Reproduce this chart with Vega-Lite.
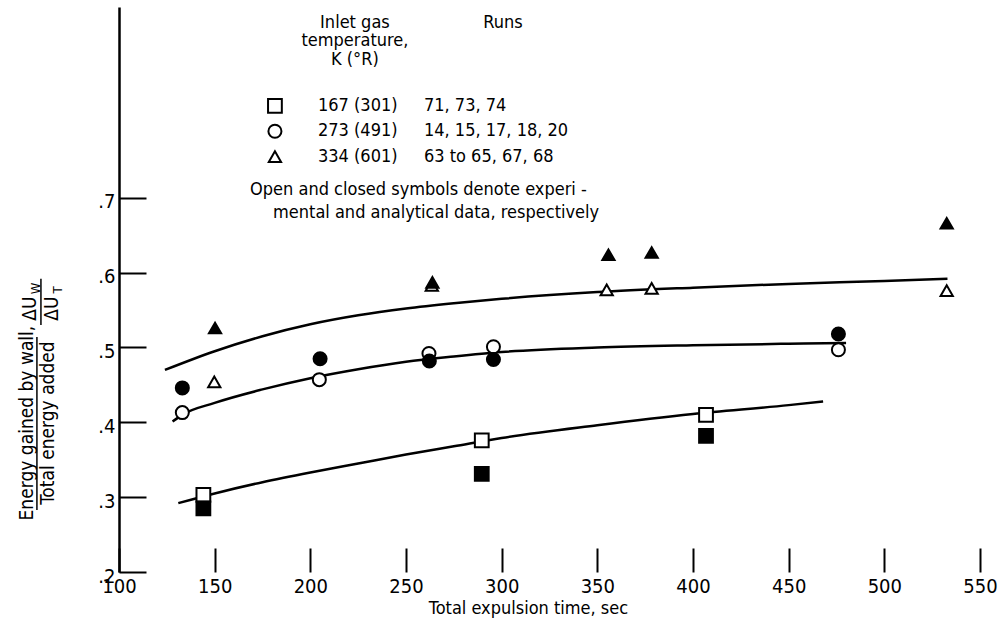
{
  "$schema": "https://vega.github.io/schema/vega-lite/v6.json",
  "width": 861,
  "height": 565,
  "autosize": {"type": "none"},
  "padding": {"left": 119, "top": 7, "right": 18, "bottom": 51},
  "background": "white",
  "config": {
    "view": {"stroke": null},
    "font": "Liberation Sans Narrow, DejaVu Sans Condensed, sans-serif",
    "text": {"color": "black", "font": "Liberation Sans Narrow, DejaVu Sans Condensed, sans-serif"}
  },
  "datasets": {
    "points": [
      {"temp": "167", "kind": "experimental", "x": 144.1, "y": 0.303},
      {"temp": "167", "kind": "experimental", "x": 289.6, "y": 0.376},
      {"temp": "167", "kind": "experimental", "x": 406.8, "y": 0.410},
      {"temp": "273", "kind": "experimental", "x": 133.1, "y": 0.413},
      {"temp": "273", "kind": "experimental", "x": 204.7, "y": 0.457},
      {"temp": "273", "kind": "experimental", "x": 262.0, "y": 0.492},
      {"temp": "273", "kind": "experimental", "x": 295.7, "y": 0.501},
      {"temp": "273", "kind": "experimental", "x": 476.0, "y": 0.497},
      {"temp": "334", "kind": "experimental", "x": 149.8, "y": 0.454},
      {"temp": "334", "kind": "experimental", "x": 263.5, "y": 0.583},
      {"temp": "334", "kind": "experimental", "x": 354.9, "y": 0.577},
      {"temp": "334", "kind": "experimental", "x": 378.4, "y": 0.579},
      {"temp": "334", "kind": "experimental", "x": 532.6, "y": 0.576},
      {"temp": "167", "kind": "analytical", "x": 144.1, "y": 0.285},
      {"temp": "167", "kind": "analytical", "x": 289.6, "y": 0.331},
      {"temp": "167", "kind": "analytical", "x": 406.8, "y": 0.382},
      {"temp": "273", "kind": "analytical", "x": 133.1, "y": 0.446},
      {"temp": "273", "kind": "analytical", "x": 205.1, "y": 0.485},
      {"temp": "273", "kind": "analytical", "x": 262.2, "y": 0.482},
      {"temp": "273", "kind": "analytical", "x": 295.7, "y": 0.484},
      {"temp": "273", "kind": "analytical", "x": 476.0, "y": 0.518},
      {"temp": "334", "kind": "analytical", "x": 150.2, "y": 0.526},
      {"temp": "334", "kind": "analytical", "x": 263.8, "y": 0.587},
      {"temp": "334", "kind": "analytical", "x": 355.8, "y": 0.624},
      {"temp": "334", "kind": "analytical", "x": 378.4, "y": 0.627},
      {"temp": "334", "kind": "analytical", "x": 532.6, "y": 0.666}
    ],
    "curves": [
      {"series": "334", "x": 124, "y": 0.470},
      {"series": "334", "x": 150, "y": 0.495},
      {"series": "334", "x": 175, "y": 0.515},
      {"series": "334", "x": 200, "y": 0.531},
      {"series": "334", "x": 225, "y": 0.543},
      {"series": "334", "x": 250, "y": 0.552},
      {"series": "334", "x": 275, "y": 0.559},
      {"series": "334", "x": 300, "y": 0.565},
      {"series": "334", "x": 350, "y": 0.574},
      {"series": "334", "x": 400, "y": 0.580},
      {"series": "334", "x": 450, "y": 0.585},
      {"series": "334", "x": 500, "y": 0.589},
      {"series": "334", "x": 533, "y": 0.592},
      {"series": "273", "x": 128, "y": 0.401},
      {"series": "273", "x": 133, "y": 0.410},
      {"series": "273", "x": 150, "y": 0.426},
      {"series": "273", "x": 175, "y": 0.444},
      {"series": "273", "x": 200, "y": 0.459},
      {"series": "273", "x": 225, "y": 0.471},
      {"series": "273", "x": 250, "y": 0.481},
      {"series": "273", "x": 275, "y": 0.488},
      {"series": "273", "x": 300, "y": 0.494},
      {"series": "273", "x": 350, "y": 0.500},
      {"series": "273", "x": 400, "y": 0.503},
      {"series": "273", "x": 450, "y": 0.505},
      {"series": "273", "x": 480, "y": 0.506},
      {"series": "167", "x": 131, "y": 0.292},
      {"series": "167", "x": 150, "y": 0.305},
      {"series": "167", "x": 175, "y": 0.320},
      {"series": "167", "x": 200, "y": 0.333},
      {"series": "167", "x": 225, "y": 0.345},
      {"series": "167", "x": 250, "y": 0.357},
      {"series": "167", "x": 275, "y": 0.368},
      {"series": "167", "x": 300, "y": 0.379},
      {"series": "167", "x": 350, "y": 0.396},
      {"series": "167", "x": 400, "y": 0.411},
      {"series": "167", "x": 450, "y": 0.423},
      {"series": "167", "x": 468, "y": 0.428}
    ],
    "baseline": [
      {"part": "solid", "x": 100, "x2": 200},
      {"part": "faint", "x": 200, "x2": 236},
      {"part": "broken", "x": 236, "x2": 350}
    ],
    "legendRows": [
      {"temp": "167", "label": "167 (301)", "runs": "71,  73,  74", "x": 181.5, "y": 0.823},
      {"temp": "273", "label": "273 (491)", "runs": "14,  15,  17,  18,  20", "x": 181.5, "y": 0.789},
      {"temp": "334", "label": "334 (601)", "runs": "63 to 65,  67,  68", "x": 181.5, "y": 0.755}
    ],
    "headers": [
      {"text": "Inlet gas", "x": 223.3, "y": 0.934},
      {"text": "temperature,", "x": 223.3, "y": 0.910},
      {"text": "K (°R)", "x": 223.3, "y": 0.884},
      {"text": "Runs", "x": 300.7, "y": 0.934}
    ],
    "notes": [
      {"text": "Open and closed symbols denote experi -", "x": 168.5, "y": 0.711},
      {"text": "mental and analytical data,  respectively", "x": 180.5, "y": 0.680}
    ],
    "ytitle": [
      {"text": "Energy gained by wall,", "x": 51.9, "y": 0.399},
      {"text": "Total energy added", "x": 62.9, "y": 0.399},
      {"text": "ΔU", "x": 53.5, "y": 0.552},
      {"text": "ΔU", "x": 65.0, "y": 0.552}
    ],
    "ysubs": [
      {"text": "W", "x": 56.8, "y": 0.579},
      {"text": "T", "x": 68.3, "y": 0.577}
    ],
    "bars": [
      {"x": 57.1, "y": 0.283, "y2": 0.514},
      {"x": 59.2, "y": 0.530, "y2": 0.592}
    ]
  },
  "encoding": {
    "x": {
      "field": "x",
      "type": "quantitative",
      "scale": {"domain": [100, 550], "nice": false, "zero": false},
      "axis": {
        "values": [100, 150, 200, 250, 300, 350, 400, 450, 500, 550],
        "domain": false,
        "grid": false,
        "tickSize": -24,
        "tickWidth": 2,
        "tickColor": "black",
        "labelFontSize": 20,
        "labelColor": "black",
        "labelPadding": 28,
        "labelFlush": false,
        "labelOverlap": false,
        "title": "Total expulsion time,  sec",
        "titleFontSize": 18,
        "titleFontWeight": "normal",
        "titleColor": "black",
        "titleX": 409,
        "titleY": 36,
        "titleAlign": "center",
        "titleBaseline": "middle"
      }
    },
    "y": {
      "field": "y",
      "type": "quantitative",
      "scale": {"domain": [0.2, 0.955], "nice": false, "zero": false},
      "axis": {
        "values": [0.2, 0.3, 0.4, 0.5, 0.6, 0.7],
        "labelExpr": "replace(format(datum.value, '.1f'), '0.', '.')",
        "domain": true,
        "domainColor": "black",
        "domainWidth": 2.5,
        "grid": false,
        "tickSize": -27,
        "tickWidth": 2,
        "tickColor": "black",
        "labelFontSize": 20,
        "labelColor": "black",
        "labelPadding": 31,
        "labelOffset": 4,
        "title": null
      }
    }
  },
  "layer": [
    {
      "data": {"name": "baseline"},
      "transform": [{"filter": "datum.part === 'solid'"}],
      "mark": {"type": "rule", "color": "black", "strokeWidth": 2.5},
      "encoding": {"x2": {"field": "x2"}, "y": {"datum": 0.2}}
    },
    {
      "data": {"name": "baseline"},
      "transform": [{"filter": "datum.part === 'faint'"}],
      "mark": {"type": "rule", "color": "#9a9a9a", "strokeWidth": 1.5},
      "encoding": {"x2": {"field": "x2"}, "y": {"datum": 0.2}}
    },
    {
      "data": {"name": "baseline"},
      "transform": [{"filter": "datum.part === 'broken'"}],
      "mark": {"type": "rule", "color": "#9a9a9a", "strokeWidth": 1.5, "strokeDash": [10, 22]},
      "encoding": {"x2": {"field": "x2"}, "y": {"datum": 0.2}}
    },
    {
      "data": {"name": "curves"},
      "mark": {"type": "line", "color": "black", "strokeWidth": 2.5, "interpolate": "monotone"},
      "encoding": {"detail": {"field": "series"}}
    },
    {
      "data": {"name": "points"},
      "mark": {"type": "point", "stroke": "black", "strokeWidth": 2, "opacity": 1},
      "encoding": {
        "shape": {"field": "temp", "type": "nominal", "scale": {"domain": ["167", "273", "334"], "range": ["square", "circle", "triangle-up"]}, "legend": null},
        "size": {"field": "temp", "type": "nominal", "scale": {"domain": ["167", "273", "334"], "range": [190, 150, 260]}, "legend": null},
        "fill": {"field": "kind", "type": "nominal", "scale": {"domain": ["experimental", "analytical"], "range": ["white", "black"]}, "legend": null}
      }
    },
    {
      "data": {"name": "legendRows"},
      "mark": {"type": "point", "stroke": "black", "strokeWidth": 2, "fill": "white", "opacity": 1},
      "encoding": {
        "shape": {"field": "temp", "type": "nominal", "legend": null},
        "size": {"field": "temp", "type": "nominal", "legend": null}
      }
    },
    {
      "data": {"name": "legendRows"},
      "mark": {"type": "text", "align": "left", "baseline": "middle", "fontSize": 18},
      "encoding": {"x": {"datum": 204}, "text": {"field": "label"}}
    },
    {
      "data": {"name": "legendRows"},
      "mark": {"type": "text", "align": "left", "baseline": "middle", "fontSize": 18},
      "encoding": {"x": {"datum": 259.4}, "text": {"field": "runs"}}
    },
    {
      "data": {"name": "headers"},
      "mark": {"type": "text", "align": "center", "baseline": "middle", "fontSize": 18},
      "encoding": {"text": {"field": "text"}}
    },
    {
      "data": {"name": "notes"},
      "mark": {"type": "text", "align": "left", "baseline": "middle", "fontSize": 18},
      "encoding": {"text": {"field": "text"}}
    },
    {
      "data": {"name": "ytitle"},
      "mark": {"type": "text", "align": "center", "baseline": "middle", "angle": 270, "fontSize": 19},
      "encoding": {"text": {"field": "text"}}
    },
    {
      "data": {"name": "ysubs"},
      "mark": {"type": "text", "align": "center", "baseline": "middle", "angle": 270, "fontSize": 13},
      "encoding": {"text": {"field": "text"}}
    },
    {
      "data": {"name": "bars"},
      "mark": {"type": "rule", "color": "black", "strokeWidth": 1.5},
      "encoding": {"y2": {"field": "y2"}}
    }
  ]
}
